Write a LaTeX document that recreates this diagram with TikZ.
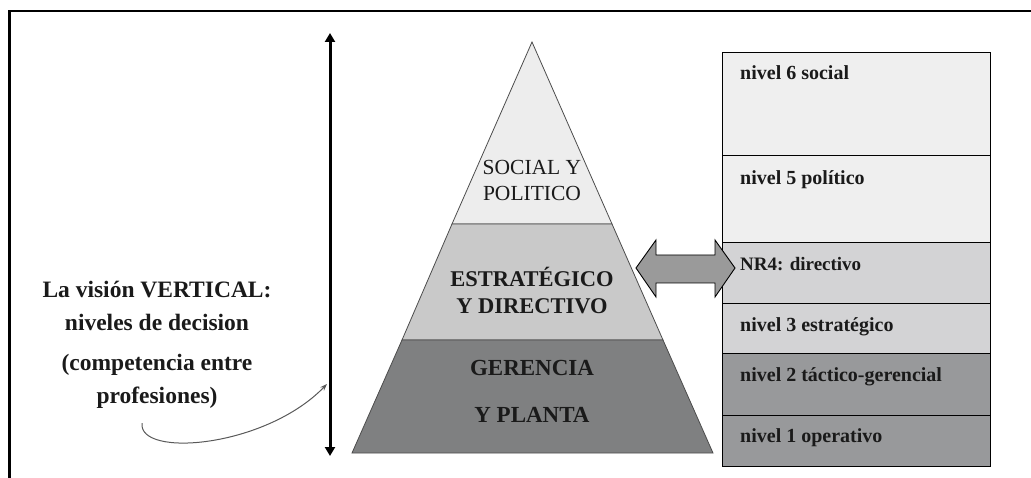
\documentclass[tikz,border=0pt]{standalone}
\usepackage{fontspec}
\setmainfont{Liberation Serif}
\usetikzlibrary{arrows.meta}
\definecolor{txt}{HTML}{1A1A1A}
\definecolor{lev1}{HTML}{EDEDED}
\definecolor{lev2}{HTML}{C9C9C9}
\definecolor{lev3}{HTML}{7F8081}
\definecolor{boxA}{HTML}{EFEFEF}
\definecolor{boxB}{HTML}{D3D3D5}
\definecolor{boxC}{HTML}{98999B}
\definecolor{arr}{HTML}{9A9A9A}
\tikzset{
  levelbox/.style={draw=black, line width=1.4pt, minimum width=268pt, anchor=north west, inner sep=0pt},
  boxtext/.style={anchor=west, inner sep=0pt, text=txt, font=\fontsize{20}{22}\selectfont\bfseries},
  pyrtext/.style={text=txt, align=center, inner sep=0pt},
  lefttext/.style={text=txt, align=center, inner sep=0pt, font=\fontsize{23.5}{33}\selectfont\bfseries},
  pyrside/.style={draw=black!70, line width=0.8pt},
}
\begin{document}
\begin{tikzpicture}[x=1pt,y=-1pt]
\useasboundingbox (0,0) rectangle (1031,478);
% frame
\draw[line width=2.5pt, black] (9.5,478) -- (9.5,11) -- (1031,11);

% vertical double arrow
\coordinate (vtop) at (330,33);
\coordinate (vbot) at (330,456);
\draw[line width=3pt, {Triangle[length=9pt,width=10pt]}-{Triangle[length=9pt,width=10pt]}] (vtop) -- (vbot);

% pyramid
\coordinate (apex) at (532,42);
\coordinate (l1) at (452,224); \coordinate (r1) at (612,224);
\coordinate (l2) at (402,340); \coordinate (r2) at (663,340);
\coordinate (bl) at (352,453); \coordinate (br) at (713,453);
\filldraw[fill=lev1, pyrside] (apex) -- (r1) -- (l1) -- cycle;
\filldraw[fill=lev2, pyrside] (l1) -- (r1) -- (r2) -- (l2) -- cycle;
\filldraw[fill=lev3, pyrside] (l2) -- (r2) -- (br) -- (bl) -- cycle;

\node[pyrtext, font=\fontsize{21.5}{26}\selectfont] (social) at (532,180) {SOCIAL Y\\POLITICO};
\node[pyrtext, font=\fontsize{22.5}{27}\selectfont\bfseries] (estr) at (532,291) {ESTRATÉGICO\\Y DIRECTIVO};
\node[pyrtext, font=\fontsize{23}{47}\selectfont\bfseries] (ger) at (532,391) {GERENCIA\\Y PLANTA};

% right boxes
\node[levelbox, fill=boxA, minimum height=103pt] (n6) at (722,52) {};
\node[levelbox, fill=boxA, minimum height=87pt] (n5) at (722,155) {};
\node[levelbox, fill=boxB, minimum height=61pt] (n4) at (722,242) {};
\node[levelbox, fill=boxB, minimum height=50pt] (n3) at (722,303) {};
\node[levelbox, fill=boxC, minimum height=62pt] (n2) at (722,353) {};
\node[levelbox, fill=boxC, minimum height=51pt] (n1) at (722,415) {};

\node[boxtext] (t6) at (740,73) {nivel 6 social};
\node[boxtext] (t5) at (740,180) {nivel 5 político};
\node[boxtext, font=\fontsize{19}{22}\selectfont\bfseries] (t4) at (740,264) {NR4: directivo};
\node[boxtext] (t3) at (740,327) {nivel 3 estratégico};
\node[boxtext] (t2) at (740,377) {nivel 2 táctico-gerencial};
\node[boxtext] (t1) at (740,438) {nivel 1 operativo};

% horizontal block double arrow
\filldraw[fill=arr, draw=black, line width=0.9pt]
  (636,268) -- (656,240) -- (656,255) -- (715,255) -- (715,240) -- (735,268)
  -- (715,297) -- (715,283) -- (656,283) -- (656,297) -- cycle;

% left text
\node[lefttext] (vis) at (157,306) {La visión VERTICAL:\\niveles de decision};
\node[lefttext] (comp) at (157,381) {(competencia entre\\profesiones)};

% curved pointer
\coordinate (cstart) at (142,423);
\coordinate (cend) at (327,384);
\draw[draw=black!65, line width=1pt, -{Stealth[length=7pt,width=5pt]}]
  (cstart) .. controls (138,458) and (265,448) .. (cend);
\end{tikzpicture}
\end{document}
